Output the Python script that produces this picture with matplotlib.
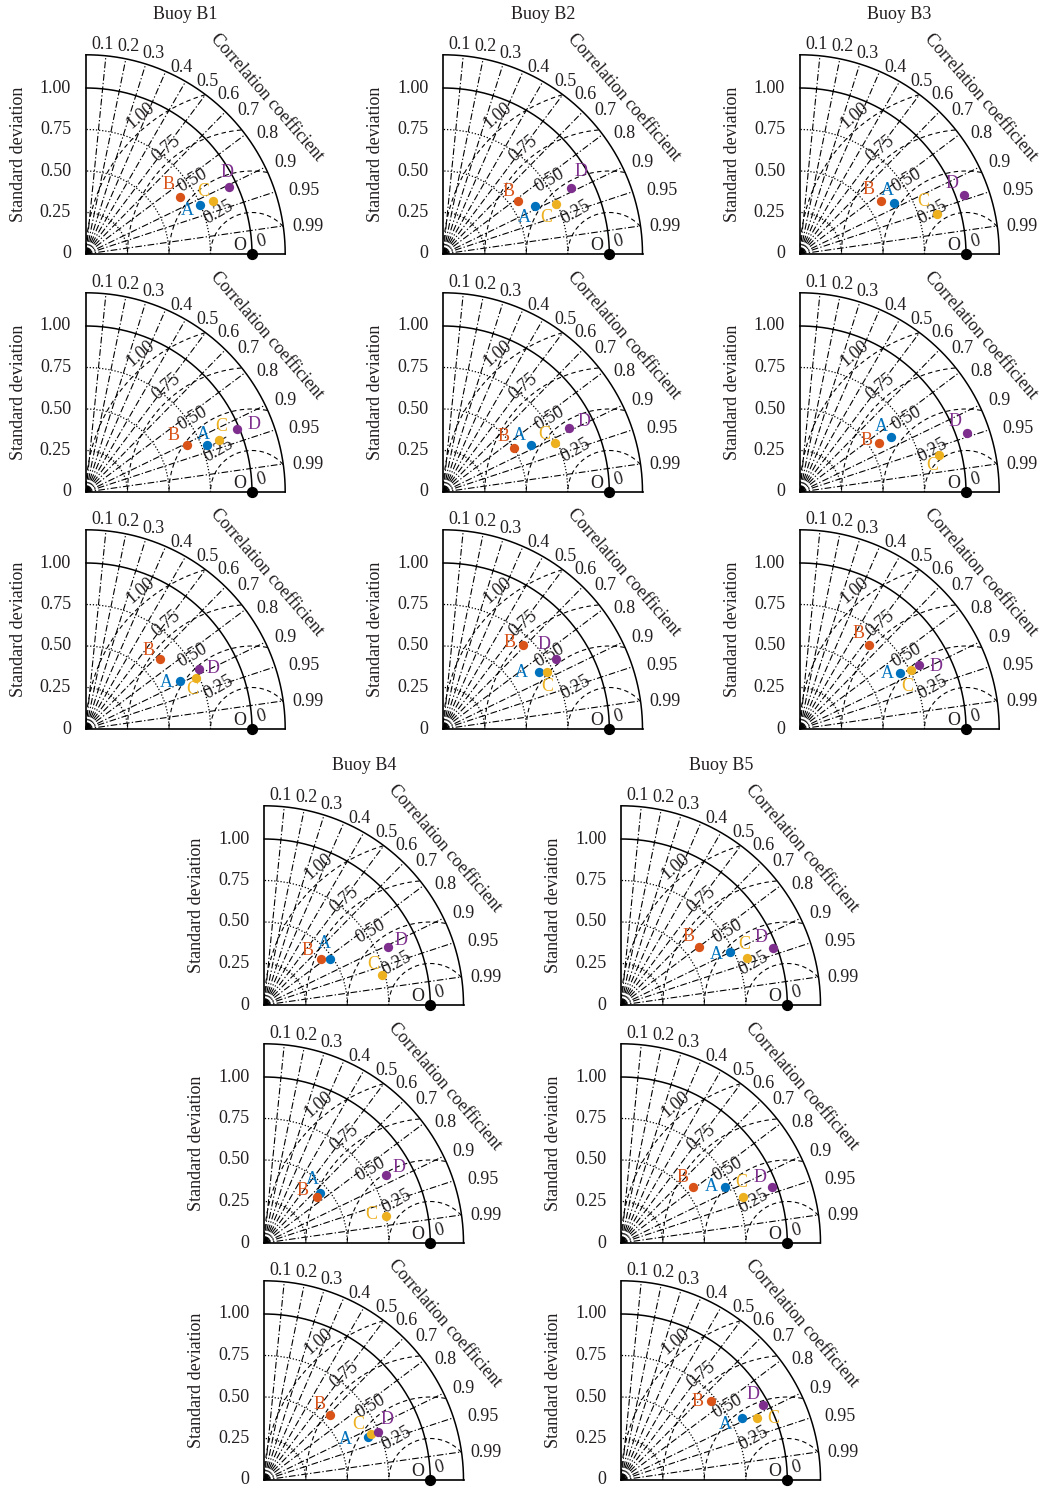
import numpy as np
import matplotlib
matplotlib.use('Agg')
import matplotlib.pyplot as plt

plt.rcParams['font.family'] = ['Liberation Serif', 'DejaVu Serif']

# ---------------- data ----------------
models = ['A', 'B', 'C', 'D']
model_colors = ['#0072BD', '#D95319', '#EDB120', '#7E2F8E']
buoys = ['Buoy B1', 'Buoy B2', 'Buoy B3', 'Buoy B4', 'Buoy B5']

# normalized standard deviation, rows = three panels per buoy, columns = A, B, C, D
b1_std = [[0.748, 0.663, 0.828, 0.951],
          [0.780, 0.673, 0.861, 0.984],
          [0.637, 0.613, 0.732, 0.774]]
b1_corr = [[0.919, 0.854, 0.922, 0.905],
           [0.932, 0.907, 0.931, 0.922],
           [0.889, 0.728, 0.906, 0.883]]

b2_std = [[0.625, 0.554, 0.744, 0.866],
          [0.599, 0.501, 0.733, 0.848],
          [0.667, 0.697, 0.713, 0.801]]
b2_corr = [[0.886, 0.817, 0.914, 0.890],
           [0.880, 0.846, 0.917, 0.892],
           [0.860, 0.687, 0.875, 0.849]]

b3_std = [[0.646, 0.584, 0.859, 1.048],
          [0.641, 0.560, 0.866, 1.066],
          [0.691, 0.656, 0.758, 0.813]]
b3_corr = [[0.878, 0.837, 0.960, 0.941],
           [0.855, 0.850, 0.966, 0.942],
           [0.874, 0.638, 0.884, 0.881]]

b4_std = [[0.485, 0.442, 0.732, 0.823],
          [0.451, 0.423, 0.750, 0.842],
          [0.674, 0.559, 0.701, 0.745]]
b4_corr = [[0.818, 0.775, 0.968, 0.906],
           [0.750, 0.757, 0.977, 0.873],
           [0.923, 0.710, 0.919, 0.922]]

b5_std = [[0.729, 0.583, 0.806, 0.976],
          [0.708, 0.546, 0.784, 0.970],
          [0.820, 0.718, 0.900, 0.967]]
b5_corr = [[0.898, 0.801, 0.937, 0.937],
           [0.881, 0.790, 0.935, 0.938],
           [0.889, 0.749, 0.911, 0.885]]

ref_std = 1.0
corr_ticks = [0.1, 0.2, 0.3, 0.4, 0.5, 0.6, 0.7, 0.8, 0.9, 0.95, 0.99]
std_ticks = [0, 0.25, 0.5, 0.75, 1.0]
std_tick_labels = ['0', '0.25', '0.50', '0.75', '1.00']
rmsd_levels = [0.25, 0.5, 0.75, 1.0]
rmsd_labels = ['0.25', '0.50', '0.75', '1.00']

# ---------------- layout constants ----------------
# correlation tick label placement: radius and angular shift (deg) of label centre
corr_lab_r = [1.264, 1.275, 1.275, 1.262, 1.273, 1.285, 1.305, 1.31, 1.32, 1.37, 1.345]
corr_lab_d = [-1.2, 0.0, 1.0, 3.6, 5.2, 4.9, 4.0, 3.2, 1.3, 1.9, 1.1]

# label offsets (pixels)
b1_off = [[(-13, -5), (-11, 12), (-9, 9), (-2, 14)],
          [(-3, 11), (-14, 9), (2, 13), (17, 4)],
          [(-14, -2), (-12, 9), (-4, -12), (14, 0)]]
b2_off = [[(-11, -12), (-10, 9), (-10, -14), (10, 17)],
          [(-11, 9), (-10, 11), (-11, 9), (15, 7)],
          [(-17, 0), (-13, 2), (0, -15), (-12, 14)]]
b3_off = [[(-7, 12), (-13, 11), (-14, 13), (-12, 12)],
          [(-10, 10), (-13, 3), (-7, -11), (-12, 11)],
          [(-13, 0), (-11, 12), (-4, -16), (17, -1)]]
b4_off = [[(-6, 15), (-14, 8), (-9, 10), (13, 7)],
          [(-8, 14), (-15, 7), (-15, 2), (13, 7)],
          [(-22, -3), (-11, 10), (-13, 10), (9, 13)]]
b5_off = [[(-14, -3), (-10, 11), (-2, 14), (-12, 11)],
          [(-14, 1), (-10, 10), (-2, 14), (-12, 10)],
          [(-17, -7), (-13, 0), (16, 0), (-10, 11)]]

W, H = 1046, 1490
fig = plt.figure(figsize=(W / 100, H / 100), dpi=100)
SCALE = 166.0
RMAX = 1.2
FS = 13
TXT = '#231F20'

top_x = [86, 443.3, 800]
top_y = [254, 492, 729]
bot_x = [264.3, 621.3]
bot_y = [1005, 1243, 1480]


def panel(ox, oy, stds, corrs, offs, title=None):
    ax = fig.add_axes([ox / W, (H - oy) / H, RMAX * SCALE / W, RMAX * SCALE / H])
    ax.set_xlim(0, RMAX)
    ax.set_ylim(0, RMAX)
    ax.axis('off')
    kw = dict(color='k', clip_on=False)
    t = np.linspace(0, np.pi / 2, 300)
    # std arcs
    for r in [0.25, 0.5, 0.75]:
        ax.plot(r * np.cos(t), r * np.sin(t), ls=(0, (1, 1.5)), lw=0.9, **kw)
    for r in [1.0, RMAX]:
        ax.plot(r * np.cos(t), r * np.sin(t), ls='-', lw=1.1, **kw)
    ax.plot([0, 0], [0, RMAX], lw=1.2, **kw)
    ax.plot([0, RMAX], [0, 0], lw=1.2, **kw)
    # correlation rays
    for c, rr, dd in zip(corr_ticks, corr_lab_r, corr_lab_d):
        th = np.arccos(c)
        ax.plot([0, RMAX * np.cos(th)], [0, RMAX * np.sin(th)],
                ls=(0, (6, 2, 1.2, 2)), lw=0.8, **kw)
        d = np.deg2rad(dd)
        ax.text(rr * np.cos(th - d), rr * np.sin(th - d), f'{c:g}',
                ha='center', va='center', fontsize=FS, color=TXT)
    # RMSD arcs
    tt = np.linspace(0, np.pi, 600)
    for r, lab, rot in zip(rmsd_levels, rmsd_labels, [30, 30, 40, 40]):
        x = ref_std + r * np.cos(tt)
        y = r * np.sin(tt)
        m = np.hypot(x, y) > RMAX
        x = np.where(m, np.nan, x)
        y = np.where(m, np.nan, y)
        ax.plot(x, y, ls=(0, (4, 3)), lw=0.8, **kw)
        a = np.deg2rad(129)
        ax.text(ref_std + (r + 0.07) * np.cos(a), (r + 0.07) * np.sin(a), lab,
                rotation=rot, ha='center', va='center', fontsize=FS, color=TXT)
    # std tick labels
    for v, lab in zip(std_ticks, std_tick_labels):
        ax.text(-0.09, v, lab, ha='right', va='center', fontsize=FS, color=TXT)
    ax.text(-0.408, 0.6, 'Standard deviation', rotation=90, ha='center',
            va='center', fontsize=FS, color=TXT)
    ca = np.deg2rad(41)
    ax.text(1.44 * np.cos(ca), 1.44 * np.sin(ca), 'Correlation coefficient',
            rotation=-49, ha='center', va='center', fontsize=FS, color=TXT,
            rotation_mode='anchor')
    # reference
    ax.scatter([ref_std], [0], s=50, color='k', zorder=6, clip_on=False)
    ax.text(0.926, 0.05, 'O', ha='center', va='center', fontsize=FS, color=TXT)
    ax.text(1.058, 0.074, '0', ha='center', va='center', fontsize=FS,
            color=TXT, rotation=15)
    # models
    s = np.array(stds)
    c = np.array(corrs)
    th = np.arccos(c)
    xs = s * np.cos(th)
    ys = s * np.sin(th)
    for i, name in enumerate(models):
        ax.scatter([xs[i]], [ys[i]], s=45, color=model_colors[i], zorder=7,
                   clip_on=False, linewidths=0)
        ax.annotate(name, (xs[i], ys[i]), xytext=offs[i],
                    textcoords='offset pixels', ha='center', va='center',
                    fontsize=FS, color=model_colors[i], zorder=8)
    if title:
        ax.text(0.6, 1.445, title, ha='center', va='center', fontsize=FS,
                color=TXT)
    return ax


top = [(b1_std, b1_corr, b1_off), (b2_std, b2_corr, b2_off),
       (b3_std, b3_corr, b3_off)]
for j, (st, co, of) in enumerate(top):
    for i in range(3):
        panel(top_x[j], top_y[i], st[i], co[i], of[i],
              buoys[j] if i == 0 else None)

bot = [(b4_std, b4_corr, b4_off), (b5_std, b5_corr, b5_off)]
for j, (st, co, of) in enumerate(bot):
    for i in range(3):
        panel(bot_x[j], bot_y[i], st[i], co[i], of[i],
              buoys[3 + j] if i == 0 else None)

fig.savefig('out.png', dpi=100)
